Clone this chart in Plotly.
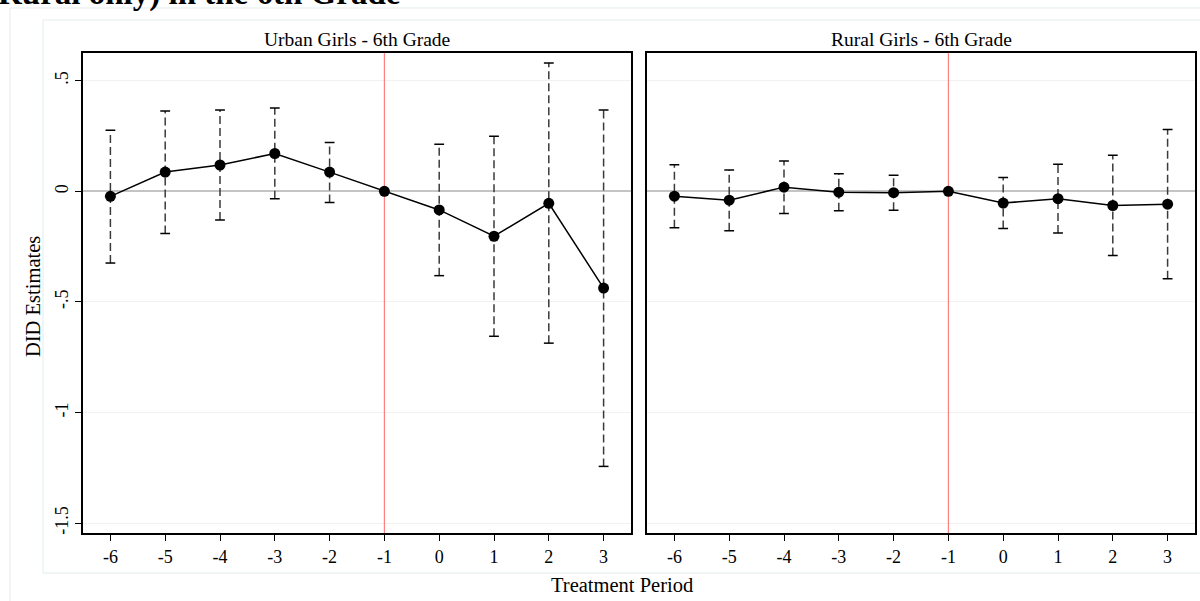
import plotly.graph_objects as go

W, H = 1200, 601

# Event-time periods relative to treatment
periods = [-6, -5, -4, -3, -2, -1, 0, 1, 2, 3]
period_labels = ["-6", "-5", "-4", "-3", "-2", "-1", "0", "1", "2", "3"]

# Urban girls, 6th grade: DID point estimates and 95% CI bounds (base period -1 has none)
urban_est = [-0.0225, 0.087, 0.119, 0.171, 0.087, 0.0, -0.084, -0.203, -0.054, -0.437]
urban_lo = [-0.324, -0.191, -0.129, -0.033, -0.050, None, -0.381, -0.655, -0.686, -1.243]
urban_hi = [0.276, 0.363, 0.368, 0.377, 0.221, None, 0.213, 0.249, 0.580, 0.368]

# Rural girls, 6th grade
rural_est = [-0.022, -0.040, 0.019, -0.004, -0.006, 0.0, -0.053, -0.033, -0.064, -0.058]
rural_lo = [-0.165, -0.178, -0.100, -0.088, -0.086, None, -0.168, -0.188, -0.290, -0.395]
rural_hi = [0.120, 0.097, 0.137, 0.080, 0.073, None, 0.062, 0.122, 0.163, 0.280]

panel_titles = ["Urban Girls - 6th Grade", "Rural Girls - 6th Grade"]
y_tickvals = [0.5, 0, -0.5, -1, -1.5]
y_ticktext = [".5", "0", "-.5", "-1", "-1.5"]
y_range = [-1.545, 0.626]
base_period = -1

FONT = "Liberation Serif, Times New Roman, serif"


def px_x(p):
    return p / W


def px_y(p):
    return 1 - p / H


fig = go.Figure()


def add_panel(est, lo, hi, xa, ya):
    # base-period reference line
    fig.add_trace(go.Scatter(
        x=[base_period, base_period], y=y_range, mode="lines",
        xaxis=xa, yaxis=ya, line=dict(color="#ff8080", width=1.2),
        hoverinfo="skip", showlegend=False))
    # dashed CI whiskers
    wx, wy = [], []
    cx, cy = [], []
    for x, l, h in zip(periods, lo, hi):
        if l is None or h is None:
            continue
        wx += [x, x, None]
        wy += [l, h, None]
        cx += [x, x]
        cy += [l, h]
    fig.add_trace(go.Scatter(
        x=wx, y=wy, mode="lines", xaxis=xa, yaxis=ya,
        line=dict(color="#3a3a3a", width=1.5, dash="8px,4px"),
        hoverinfo="skip", showlegend=False))
    # whisker caps
    fig.add_trace(go.Scatter(
        x=cx, y=cy, mode="markers", xaxis=xa, yaxis=ya,
        marker=dict(symbol="line-ew-open", size=7, color="black",
                    line=dict(color="black", width=1.5)),
        hoverinfo="skip", showlegend=False))
    # point estimates joined by a line
    fig.add_trace(go.Scatter(
        x=periods, y=est, mode="lines+markers", xaxis=xa, yaxis=ya,
        line=dict(color="black", width=1.5),
        marker=dict(color="black", size=11),
        showlegend=False))


add_panel(urban_est, urban_lo, urban_hi, "x", "y")
add_panel(rural_est, rural_lo, rural_hi, "x2", "y2")

xaxis_common = dict(
    range=[-6.5, 3.5], tickvals=periods, ticktext=period_labels,
    ticks="outside", ticklen=6, tickwidth=1.2, tickcolor="black",
    showline=True, linecolor="black", linewidth=1.5, mirror=True,
    showgrid=False, zeroline=False,
    tickfont=dict(family=FONT, size=18, color="black"),
)
yaxis_common = dict(
    range=y_range, tickvals=y_tickvals, ticktext=y_ticktext,
    showline=True, linecolor="black", linewidth=1.5, mirror=True,
    showgrid=True, gridcolor="#f1f1f1", gridwidth=1,
    zeroline=True, zerolinecolor="#c4c4c4", zerolinewidth=2,
    domain=[px_y(535), px_y(53)],
)

fig.update_layout(
    width=W, height=H,
    margin=dict(l=0, r=0, t=0, b=0),
    paper_bgcolor="white", plot_bgcolor="white",
    font=dict(family=FONT, color="black"),
    xaxis=dict(domain=[px_x(83), px_x(631)], anchor="y", **xaxis_common),
    xaxis2=dict(domain=[px_x(647), px_x(1195)], anchor="y2", **xaxis_common),
    yaxis=dict(anchor="x", ticks="outside", ticklen=6, tickwidth=1.2,
               tickcolor="black", tickangle=-90,
               tickfont=dict(family=FONT, size=18, color="black"),
               **yaxis_common),
    yaxis2=dict(anchor="x2", matches="y", showticklabels=False, ticks="",
                **yaxis_common),
)

# graph-region frames
fig.add_shape(type="rect", xref="paper", yref="paper",
              x0=px_x(10), x1=1.05, y0=-0.05, y1=px_y(8),
              line=dict(color="#e3ecee", width=1), layer="below")
fig.add_shape(type="rect", xref="paper", yref="paper",
              x0=px_x(43), x1=1.05, y0=px_y(575), y1=px_y(20),
              line=dict(color="#e3ecee", width=1), layer="below")

# panel titles
for title, (a, b) in zip(panel_titles, [(83, 631), (647, 1195)]):
    fig.add_annotation(text=title, xref="paper", yref="paper",
                       x=px_x((a + b) / 2), y=px_y(40), showarrow=False,
                       xanchor="center", yanchor="middle",
                       font=dict(family=FONT, size=19.5, color="black"))

# axis titles
fig.add_annotation(text="Treatment Period", xref="paper", yref="paper",
                   x=px_x(622), y=px_y(587), showarrow=False,
                   xanchor="center", yanchor="middle",
                   font=dict(family=FONT, size=20.5, color="black"))
fig.add_annotation(text="DID Estimates", xref="paper", yref="paper",
                   x=px_x(33), y=px_y(298), showarrow=False, textangle=-90,
                   xanchor="center", yanchor="middle",
                   font=dict(family=FONT, size=20.5, color="black"))

# overall title (top of the figure)
fig.add_annotation(text="<b>Rural only) in the 6th Grade</b>", xref="paper",
                   yref="paper", x=px_x(402), y=px_y(-7), showarrow=False,
                   xanchor="right", yanchor="middle",
                   font=dict(family=FONT, size=33, color="black"))

fig.write_html("out.html")
